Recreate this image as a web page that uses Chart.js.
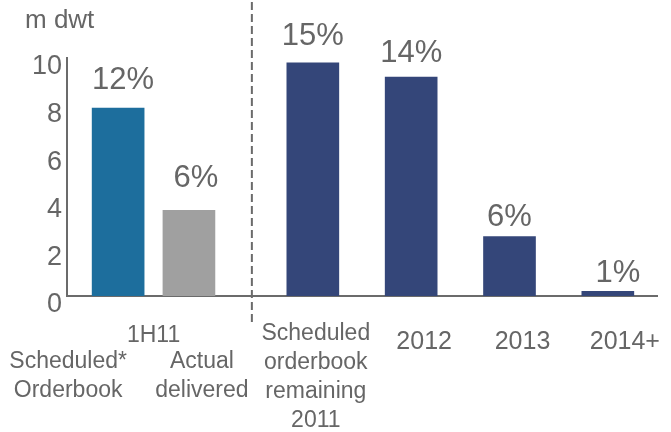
<!DOCTYPE html>
<html>
<head>
<meta charset="utf-8">
<script src="https://cdn.jsdelivr.net/npm/chart.js@4.4.1/dist/chart.umd.min.js"></script>
<style>
    html, body { margin: 0; padding: 0; background: #ffffff; }
    #wrap { width: 671px; height: 432px; position: relative; }
</style>
</head>
<body>
<div id="wrap"><canvas id="orderbookChart"></canvas></div>
<script>
// data (m dwt)
const categories = [
    ["Scheduled*", "Orderbook"],
    ["Actual", "delivered"],
    ["Scheduled", "orderbook", "remaining", "2011"],
    ["2012"],
    ["2013"],
    ["2014+"]
];
const groupLabel = "1H11";
const volumes = [7.9, 3.6, 9.8, 9.2, 2.5, 0.2];
const shares = [12, 6, 15, 14, 6, 1];
const yTicks = [0, 2, 4, 6, 8, 10];
const unitLabel = "m dwt";

// layout of the x axis (slot units, the right block is one unit per bar)
const xSlots = [0.52, 1.24, 2.5, 3.5, 4.5, 5.5];
const dividerSlot = 1.88;

const FONT = "'Liberation Sans', Arial, sans-serif";
const TEXT = "#666666";
const AXIS = "#6b6b6b";
const barColors = ["#1d6e9d", "#a0a0a0", "#344679", "#344679", "#344679", "#344679"];

// label placement below the axis: horizontal nudge, top line offset, font size
const labelNudge = [-50, 13, 3, 13, 13, 17];
const labelDrop = [66, 66, 38, 46, 46, 46];
const labelSize = [23, 23, 23, 25, 25, 25];
// percent labels: horizontal nudge and rise above the bar top
const pctNudge = [5, 7, 0, 0, 0, 10];
const pctRise = [28, 32, 26, 24, 19, 18];

const annotations = {
    id: "annotations",
    beforeDatasetsDraw(chart) {
        const { ctx, scales: { x } } = chart;
        const px = x.getPixelForValue(dividerSlot);
        ctx.save();
        ctx.strokeStyle = AXIS;
        ctx.lineWidth = 2;
        ctx.setLineDash([8, 4]);
        ctx.beginPath();
        ctx.moveTo(px, 2);
        ctx.lineTo(px, 322);
        ctx.stroke();
        ctx.restore();
    },
    afterDraw(chart) {
        const { ctx, chartArea } = chart;
        const bars = chart.getDatasetMeta(0).data;
        ctx.save();
        ctx.fillStyle = TEXT;
        ctx.textBaseline = "middle";

        ctx.textAlign = "left";
        ctx.font = "26px " + FONT;
        ctx.fillText(unitLabel, 25, 21);

        ctx.textAlign = "center";
        ctx.font = "31px " + FONT;
        bars.forEach((bar, i) => {
            ctx.fillText(shares[i] + "%", bar.x + pctNudge[i], bar.y - pctRise[i]);
        });

        categories.forEach((lines, i) => {
            ctx.font = labelSize[i] + "px " + FONT;
            lines.forEach((line, j) => {
                ctx.fillText(line, bars[i].x + labelNudge[i], chartArea.bottom + labelDrop[i] + j * 28.8);
            });
        });

        ctx.font = "23px " + FONT;
        ctx.fillText(groupLabel, (bars[0].x + bars[1].x) / 2, chartArea.bottom + 40);
        ctx.restore();
    }
};

new Chart(document.getElementById("orderbookChart").getContext("2d"), {
    type: "bar",
    data: {
        datasets: [{
            data: volumes.map((v, i) => ({ x: xSlots[i], y: v })),
            backgroundColor: barColors,
            borderWidth: 0,
            barThickness: 52
        }]
    },
    options: {
        responsive: true,
        maintainAspectRatio: false,
        animation: false,
        layout: {
            padding: { top: 58, right: 14, left: 0, bottom: 0 }
        },
        plugins: {
            legend: { display: false },
            tooltip: { enabled: false }
        },
        scales: {
            x: {
                type: "linear",
                min: 0,
                max: 6,
                offset: false,
                grid: { display: false, drawTicks: false, offset: false },
                border: { color: AXIS, width: 2 },
                ticks: { display: false },
                afterFit(scale) { scale.height = 136; }
            },
            y: {
                min: 0,
                max: 10,
                afterBuildTicks(scale) {
                    scale.ticks = yTicks.map(v => ({ value: v }));
                },
                grid: { display: false, drawTicks: false },
                border: { color: AXIS, width: 2 },
                ticks: {
                    color: TEXT,
                    padding: 5,
                    labelOffset: 9,
                    font: { family: FONT, size: 27 }
                },
                afterFit(scale) { scale.width = 67; }
            }
        }
    },
    plugins: [annotations]
});
</script>
</body>
</html>
